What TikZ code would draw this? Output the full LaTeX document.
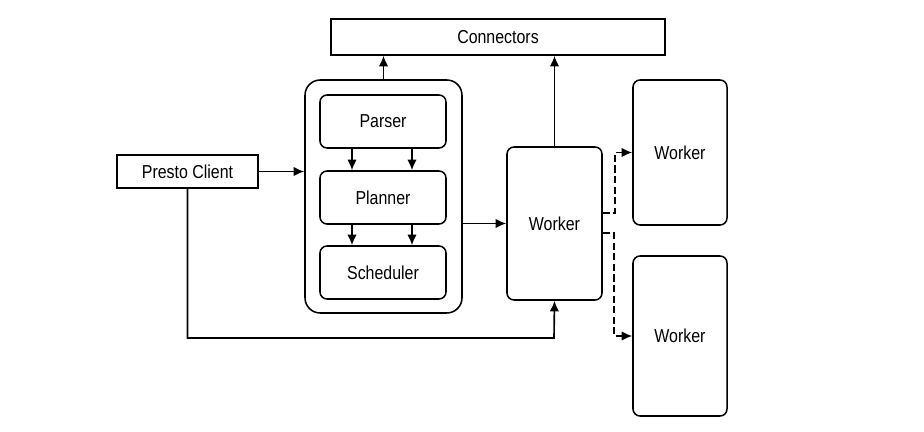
\documentclass[tikz,border=0pt]{standalone}
\usepackage{fontspec}
\setmainfont{Liberation Sans}[FakeStretch=0.85]
\usetikzlibrary{arrows.meta}

\begin{document}
\begin{tikzpicture}[x=0.03cm,y=-0.03cm,font=\fontsize{16}{19}\selectfont,
    box/.style={draw,line width=1.3pt,inner sep=0pt},
    rbox/.style={box,rounded corners=6pt},
    flow/.style={-{Latex[length=9pt,width=8pt]},line width=1.4pt},
    remote/.style={flow,dash pattern=on 6pt off 3pt}]
    \useasboundingbox (0,0) rectangle (924,432);
    % coordinator and its parts
    \node[rbox,rounded corners=13pt,minimum width=4.71cm,minimum height=6.99cm]
      (sys) at (383.5,196.5) {};
    \node[rbox,minimum width=3.78cm,minimum height=1.59cm]
      (par) at (383,121.5) {Parser};
    \node[rbox,minimum width=3.78cm,minimum height=1.59cm]
      (pla) at (383,197.5) {Planner};
    \node[rbox,minimum width=3.78cm,minimum height=1.59cm]
      (sch) at (383,272.5) {Scheduler};
    \node[box,minimum width=10.02cm,minimum height=1.08cm]
      (conn) at (498,37) {Connectors};
    \node[box,minimum width=4.23cm,minimum height=0.99cm]
      (cli) at (187.5,171.5) {Presto Client};
    % workers
    \node[rbox,minimum width=2.85cm,minimum height=4.59cm]
      (wk) at (554.5,223.5) {Worker};
    \node[rbox,minimum width=2.82cm,minimum height=4.35cm]
      (wa) at (680,152.5) {Worker};
    \node[rbox,minimum width=2.82cm,minimum height=4.8cm]
      (wb) at (680,336) {Worker};
    \coordinate (low) at (554,338);
    \coordinate (fa) at (615,213);
    \coordinate (fb) at (614,233);
    % connectors
    \draw[flow] (sys.north) -- (conn.south -| sys.north);
    \draw[flow] (wk.north) -- (conn.south -| wk.north);
    \draw[flow] (cli.east) -- (sys.west |- cli.east);
    \draw[flow] ([xshift=-0.93cm]par.south) -- ([xshift=-0.93cm]pla.north);
    \draw[flow] ([xshift=0.87cm]par.south) -- ([xshift=0.87cm]pla.north);
    \draw[flow] ([xshift=-0.93cm]pla.south) -- ([xshift=-0.93cm]sch.north);
    \draw[flow] ([xshift=0.87cm]pla.south) -- ([xshift=0.87cm]sch.north);
    \draw[flow] (sys.east |- wk.west) -- (wk.west);
    \draw[flow] (cli.south) |- (low) -- (wk.south);
    \draw[remote] (wk.east |- fa) -- (fa) |- (wa.west);
    \draw[remote] (wk.east |- fb) -- (fb) |- (wb.west);
\end{tikzpicture}
\end{document}
